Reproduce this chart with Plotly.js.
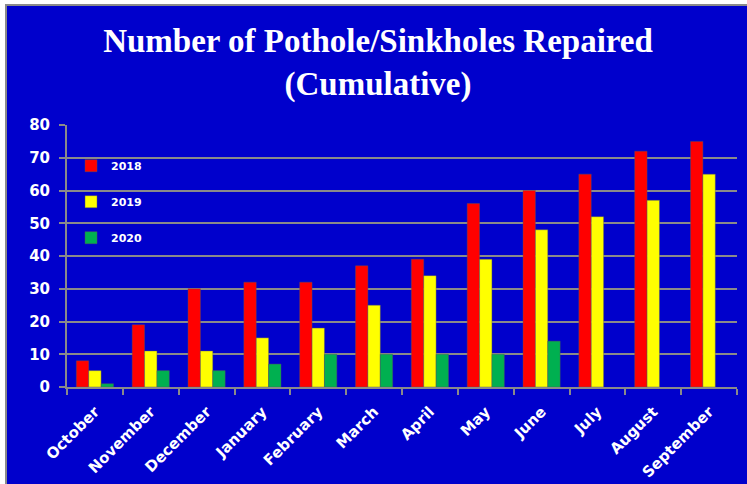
<!DOCTYPE html>
<html>
<head>
<meta charset="utf-8">
<script src="https://cdn.plot.ly/plotly-3.0.1.min.js"></script>
<style>
html, body { margin:0; padding:0; background:#ffffff; width:747px; height:484px; overflow:hidden; }
#frame { position:absolute; left:5px; top:4px; width:742px; height:480px; border-left:2px solid #8a8a8a; border-top:2px solid #8a8a8a; background:#0000CC; }
#chart { position:absolute; left:0; top:0; width:742px; height:480px; }
</style>
</head>
<body>
<div id="frame"><div id="chart"></div></div>
<script>
const months = ["October","November","December","January","February","March","April","May","June","July","August","September"];
const y2018 = [8, 19, 30, 32, 32, 37, 39, 56, 60, 65, 72, 75];
const y2019 = [5, 11, 11, 15, 18, 25, 34, 39, 48, 52, 57, 65];
const y2020 = [1, 5, 5, 7, 10, 10, 10, 10, 14, null, null, null];
const seriesNames = ["2018", "2019", "2020"];
const seriesColors = ["#FF0000", "#FFFF00", "#00B050"];
const seriesValues = [y2018, y2019, y2020];

const traces = seriesValues.map((vals, i) => ({
  type: "bar",
  name: seriesNames[i],
  x: months,
  y: vals,
  legendgroup: "g" + i,
  marker: { color: seriesColors[i], line: { color: "rgba(90,90,90,0.7)", width: 0.6 } },
  hoverinfo: "x+y+name"
}));

const layout = {
  width: 742, height: 480,
  paper_bgcolor: "#0000CC",
  plot_bgcolor: "#0000CC",
  margin: { l: 60, r: 12, t: 119, b: 99 },
  barmode: "group",
  bargap: 0.335,
  bargroupgap: 0,
  title: {
    text: "Number of Pothole/Sinkholes Repaired<br>(Cumulative)",
    font: { family: "Liberation Serif, Times New Roman, serif", size: 33, color: "#ffffff", weight: "bold" },
    x: 0.5, xref: "container", xanchor: "center",
    y: 0.905, yref: "container", yanchor: "top"
  },
  xaxis: {
    type: "category",
    tickangle: -45,
    tickfont: { family: "DejaVu Sans, Verdana, sans-serif", size: 15, color: "#ffffff", weight: "bold" },
    showline: true, linecolor: "#8a8a8a", linewidth: 2,
    ticks: "outside", tickson: "boundaries", ticklen: 6, tickcolor: "#8a8a8a", tickwidth: 2,
    ticklabelstandoff: 8,
    showgrid: false, zeroline: false
  },
  yaxis: {
    range: [0, 80], dtick: 10, tick0: 0,
    tickfont: { family: "DejaVu Sans, Verdana, sans-serif", size: 15, color: "#ffffff", weight: "bold" },
    showline: true, linecolor: "#8a8a8a", linewidth: 2,
    ticks: "outside", ticklen: 6, tickcolor: "#8a8a8a", tickwidth: 2,
    ticklabelstandoff: 6,
    showgrid: true, gridcolor: "#8a8a8a", gridwidth: 2,
    zeroline: false, fixedrange: true
  },
  showlegend: true,
  legend: {
    x: 0.006, xanchor: "left", y: 0.9, yanchor: "top",
    bgcolor: "rgba(0,0,0,0)",
    font: { family: "DejaVu Sans, Verdana, sans-serif", size: 11, color: "#ffffff", weight: "bold" },
    tracegroupgap: 17,
    itemwidth: 30
  }
};

Plotly.newPlot("chart", traces, layout, { displayModeBar: false, staticPlot: true });
</script>
</body>
</html>
